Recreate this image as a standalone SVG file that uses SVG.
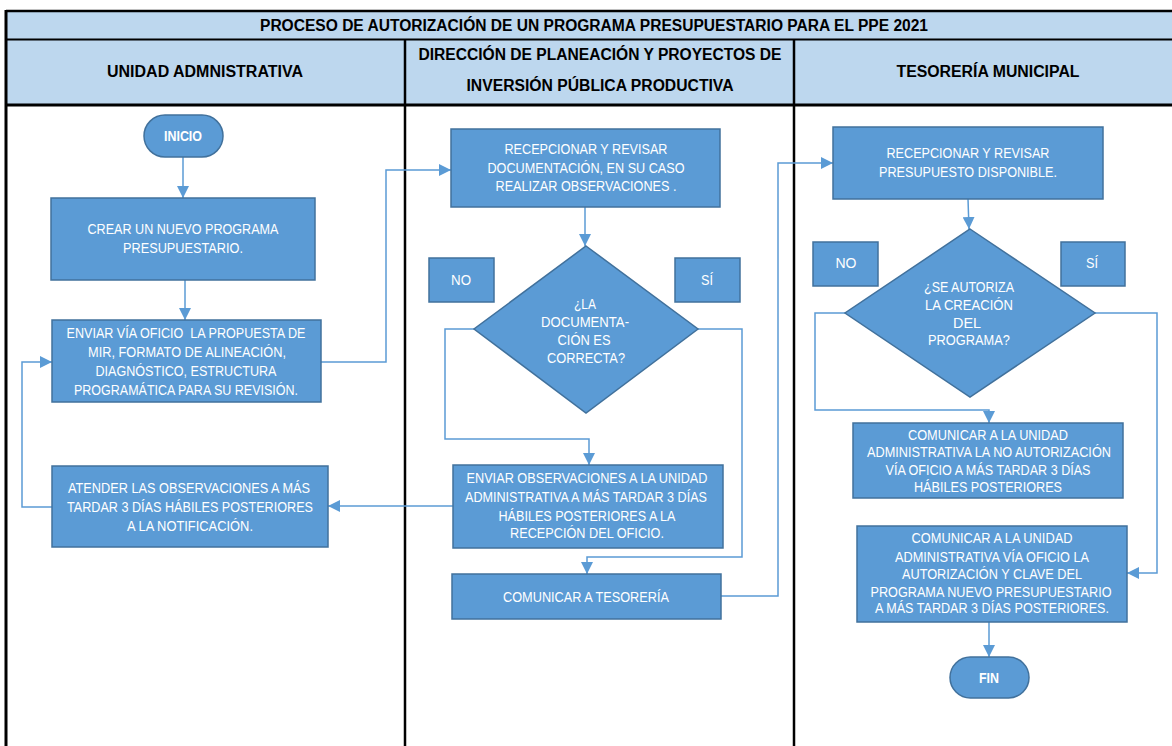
<svg xmlns="http://www.w3.org/2000/svg" width="1172" height="746" viewBox="0 0 1172 746">
<defs>
<style>
.hdr{fill:#BDD7EE;stroke:none}
.bl{stroke:#000;fill:none}
.box{fill:#5B9BD5;stroke:#41719C;stroke-width:1.5}
.t{font-family:"Liberation Sans Narrow","Liberation Sans",Arial,sans-serif;font-size:14px;fill:#FFFFFF;text-anchor:middle}
.tb{font-family:"Liberation Sans Narrow","Liberation Sans",Arial,sans-serif;font-size:14px;font-weight:bold;fill:#FFFFFF;text-anchor:middle}
.h{font-family:"Liberation Sans Narrow","Liberation Sans",Arial,sans-serif;font-size:16px;font-weight:bold;fill:#000;text-anchor:middle}
.c{fill:none;stroke:#5B9BD5;stroke-width:1.5}
.ca{fill:none;stroke:#5B9BD5;stroke-width:1.5;marker-end:url(#ah)}
</style>
<marker id="ah" markerUnits="userSpaceOnUse" markerWidth="12" markerHeight="12" viewBox="0 0 10 10" refX="10" refY="5" orient="auto">
<path d="M0,0 L10,5 L0,10 z" fill="#5B9BD5"/>
</marker>
</defs>
<rect width="1172" height="746" fill="#FFFFFF"/>
<g id="table">
<rect class="hdr" x="6" y="10" width="1166" height="95"/>
<line class="bl" x1="6" y1="11" x2="1172" y2="11" stroke-width="2.5"/>
<line class="bl" x1="6" y1="39.5" x2="1172" y2="39.5" stroke-width="2"/>
<line class="bl" x1="6" y1="105" x2="1172" y2="105" stroke-width="3"/>
<line class="bl" x1="6" y1="10" x2="6" y2="746" stroke-width="3"/>
<line class="bl" x1="405" y1="39" x2="405" y2="746" stroke-width="2.5"/>
<line class="bl" x1="794" y1="39" x2="794" y2="746" stroke-width="2.5"/>
<text class="h" x="594" y="31" textLength="668" lengthAdjust="spacingAndGlyphs">PROCESO DE AUTORIZACIÓN DE UN PROGRAMA PRESUPUESTARIO PARA EL PPE 2021</text>
<text class="h" x="205" y="77" textLength="196" lengthAdjust="spacingAndGlyphs">UNIDAD ADMNISTRATIVA</text>
<text class="h" x="600" y="60" textLength="363" lengthAdjust="spacingAndGlyphs">DIRECCIÓN DE PLANEACIÓN Y PROYECTOS DE</text>
<text class="h" x="600" y="91" textLength="267" lengthAdjust="spacingAndGlyphs">INVERSIÓN PÚBLICA PRODUCTIVA</text>
<text class="h" x="988" y="77" textLength="183" lengthAdjust="spacingAndGlyphs">TESORERÍA MUNICIPAL</text>
</g>
<g id="connectors">
<path class="ca" d="M183,157 V198"/>
<path class="ca" d="M185,280 V320"/>
<path class="ca" d="M321,362 H386 V170 H451"/>
<path class="ca" d="M585,207 V246"/>
<path class="ca" d="M474,329 H445 V439 H589 V465"/>
<path class="ca" d="M698,329 H742 V557 H587 V574"/>
<path class="ca" d="M453,506 H328"/>
<path class="ca" d="M52,507 H22 V362 H52"/>
<path class="ca" d="M721,596 H778 V163 H833"/>
<path class="ca" d="M968,199 L969,229"/>
<path class="ca" d="M845,313 H815 V410 H989 V423"/>
<path class="ca" d="M1095,313 H1157 V573 H1127"/>
<path class="ca" d="M989,622 V657"/>
</g>
<g id="inicio">
<rect class="box" x="144" y="115" width="79" height="42" rx="21"/>
<text class="tb" x="183" y="141" textLength="38" lengthAdjust="spacingAndGlyphs">INICIO</text>
</g>
<g id="crear">
<rect class="box" x="51" y="198" width="264" height="82"/>
<text class="t" x="183" y="234" textLength="191" lengthAdjust="spacingAndGlyphs">CREAR UN NUEVO PROGRAMA</text>
<text class="t" x="183" y="253" textLength="120" lengthAdjust="spacingAndGlyphs">PRESUPUESTARIO.</text>
</g>
<g id="enviar">
<rect class="box" x="52" y="320" width="269" height="82"/>
<text class="t" x="186" y="338" textLength="239" lengthAdjust="spacingAndGlyphs" xml:space="preserve">ENVIAR VÍA OFICIO  LA PROPUESTA DE</text>
<text class="t" x="187" y="357" textLength="198" lengthAdjust="spacingAndGlyphs">MIR, FORMATO DE ALINEACIÓN,</text>
<text class="t" x="186" y="376" textLength="181" lengthAdjust="spacingAndGlyphs">DIAGNÓSTICO, ESTRUCTURA</text>
<text class="t" x="186" y="395" textLength="224" lengthAdjust="spacingAndGlyphs">PROGRAMÁTICA PARA SU REVISIÓN.</text>
</g>
<g id="atender">
<rect class="box" x="52" y="466" width="276" height="81"/>
<text class="t" x="189" y="493" textLength="242" lengthAdjust="spacingAndGlyphs">ATENDER LAS OBSERVACIONES A MÁS</text>
<text class="t" x="190" y="512" textLength="246" lengthAdjust="spacingAndGlyphs">TARDAR 3 DÍAS HÁBILES POSTERIORES</text>
<text class="t" x="190" y="531" textLength="126" lengthAdjust="spacingAndGlyphs">A LA NOTIFICACIÓN.</text>
</g>
<g id="recepcionar-doc">
<rect class="box" x="451" y="129" width="269" height="78"/>
<text class="t" x="586" y="154" textLength="163" lengthAdjust="spacingAndGlyphs">RECEPCIONAR Y REVISAR</text>
<text class="t" x="586" y="173" textLength="197" lengthAdjust="spacingAndGlyphs">DOCUMENTACIÓN, EN SU CASO</text>
<text class="t" x="586" y="191" textLength="181" lengthAdjust="spacingAndGlyphs">REALIZAR OBSERVACIONES .</text>
</g>
<g id="no1">
<rect class="box" x="429" y="258" width="65" height="44"/>
<text class="t" x="461" y="285" textLength="20" lengthAdjust="spacingAndGlyphs">NO</text>
</g>
<g id="si1">
<rect class="box" x="675" y="258" width="65" height="44"/>
<text class="t" x="707" y="285" textLength="12" lengthAdjust="spacingAndGlyphs">SÍ</text>
</g>
<g id="decision-doc">
<polygon class="box" points="586,246 698,329 586,413 474,329"/>
<text class="t" x="585" y="309" textLength="22" lengthAdjust="spacingAndGlyphs">¿LA</text>
<text class="t" x="585" y="327" textLength="88" lengthAdjust="spacingAndGlyphs">DOCUMENTA-</text>
<text class="t" x="584" y="345" textLength="53" lengthAdjust="spacingAndGlyphs">CIÓN ES</text>
<text class="t" x="586" y="363" textLength="78" lengthAdjust="spacingAndGlyphs">CORRECTA?</text>
</g>
<g id="enviar-obs">
<rect class="box" x="453" y="465" width="270" height="83"/>
<text class="t" x="587" y="483" textLength="241" lengthAdjust="spacingAndGlyphs">ENVIAR OBSERVACIONES A LA UNIDAD</text>
<text class="t" x="586" y="502" textLength="242" lengthAdjust="spacingAndGlyphs">ADMINISTRATIVA A MÁS TARDAR 3 DÍAS</text>
<text class="t" x="587" y="521" textLength="177" lengthAdjust="spacingAndGlyphs">HÁBILES POSTERIORES A LA</text>
<text class="t" x="587" y="538" textLength="154" lengthAdjust="spacingAndGlyphs">RECEPCIÓN DEL OFICIO.</text>
</g>
<g id="comunicar-tesoreria">
<rect class="box" x="452" y="574" width="269" height="45"/>
<text class="t" x="586" y="602" textLength="166" lengthAdjust="spacingAndGlyphs">COMUNICAR A TESORERÍA</text>
</g>
<g id="recepcionar-presupuesto">
<rect class="box" x="833" y="127" width="270" height="72"/>
<text class="t" x="968" y="158" textLength="163" lengthAdjust="spacingAndGlyphs">RECEPCIONAR Y REVISAR</text>
<text class="t" x="968" y="177" textLength="178" lengthAdjust="spacingAndGlyphs">PRESUPUESTO DISPONIBLE.</text>
</g>
<g id="no2">
<rect class="box" x="813" y="242" width="65" height="44"/>
<text class="t" x="846" y="268" textLength="21" lengthAdjust="spacingAndGlyphs">NO</text>
</g>
<g id="si2">
<rect class="box" x="1061" y="242" width="64" height="44"/>
<text class="t" x="1092" y="268" textLength="12" lengthAdjust="spacingAndGlyphs">SÍ</text>
</g>
<g id="decision-autoriza">
<polygon class="box" points="970,229 1095,313 970,397 845,313"/>
<text class="t" x="969" y="292" textLength="90" lengthAdjust="spacingAndGlyphs">¿SE AUTORIZA</text>
<text class="t" x="969" y="310" textLength="88" lengthAdjust="spacingAndGlyphs">LA CREACIÓN</text>
<text class="t" x="967" y="328" textLength="28" lengthAdjust="spacingAndGlyphs">DEL</text>
<text class="t" x="969" y="345" textLength="82" lengthAdjust="spacingAndGlyphs">PROGRAMA?</text>
</g>
<g id="comunicar-no">
<rect class="box" x="853" y="423" width="270" height="75"/>
<text class="t" x="988" y="440" textLength="160" lengthAdjust="spacingAndGlyphs">COMUNICAR A LA UNIDAD</text>
<text class="t" x="989" y="457" textLength="244" lengthAdjust="spacingAndGlyphs">ADMINISTRATIVA LA NO AUTORIZACIÓN</text>
<text class="t" x="988" y="475" textLength="205" lengthAdjust="spacingAndGlyphs">VÍA OFICIO A MÁS TARDAR 3 DÍAS</text>
<text class="t" x="988" y="492" textLength="148" lengthAdjust="spacingAndGlyphs">HÁBILES POSTERIORES</text>
</g>
<g id="comunicar-autorizacion">
<rect class="box" x="857" y="526" width="270" height="96"/>
<text class="t" x="992" y="543" textLength="161" lengthAdjust="spacingAndGlyphs">COMUNICAR A LA UNIDAD</text>
<text class="t" x="992" y="562" textLength="194" lengthAdjust="spacingAndGlyphs">ADMINISTRATIVA VÍA OFICIO LA</text>
<text class="t" x="992" y="579" textLength="180" lengthAdjust="spacingAndGlyphs">AUTORIZACIÓN Y CLAVE DEL</text>
<text class="t" x="991" y="597" textLength="241" lengthAdjust="spacingAndGlyphs">PROGRAMA NUEVO PRESUPUESTARIO</text>
<text class="t" x="992" y="613" textLength="234" lengthAdjust="spacingAndGlyphs">A MÁS TARDAR 3 DÍAS POSTERIORES.</text>
</g>
<g id="fin">
<rect class="box" x="950" y="657" width="79" height="41" rx="20.5"/>
<text class="tb" x="989" y="683" textLength="20" lengthAdjust="spacingAndGlyphs">FIN</text>
</g>
</svg>
